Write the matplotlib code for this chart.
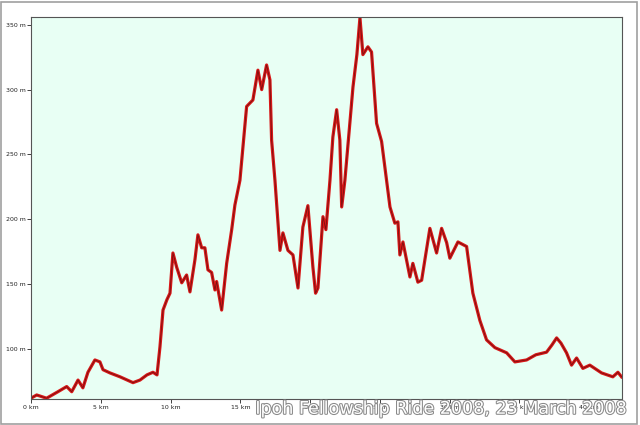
import matplotlib
matplotlib.use('Agg')
import matplotlib.pyplot as plt
import matplotlib.patheffects as pe
from matplotlib.patches import Rectangle

# distance (km) and elevation (m) read from the profile
dist_km = [0.0, 0.41, 1.12, 1.93, 2.56, 2.92, 3.37, 3.72, 4.08, 4.58, 4.94, 5.16,
           5.66, 6.38, 7.31, 7.81, 8.31, 8.74, 9.03, 9.24, 9.46, 9.74, 9.96, 10.17,
           10.44, 10.80, 11.15, 11.39, 11.75, 11.96, 12.23, 12.46, 12.68, 12.94,
           13.18, 13.30, 13.66, 14.02, 14.38, 14.61, 14.97, 15.45, 15.90, 16.26,
           16.53, 16.88, 17.12, 17.24, 17.48, 17.84, 18.05, 18.41, 18.77, 19.13,
           19.48, 19.84, 20.20, 20.39, 20.56, 20.92, 21.13, 21.42, 21.63, 21.90,
           22.13, 22.26, 22.49, 23.07, 23.35, 23.57, 23.78, 24.14, 24.40, 24.76,
           25.12, 25.72, 26.07, 26.29, 26.43, 26.65, 27.15, 27.36, 27.72, 27.99,
           28.58, 29.06, 29.42, 29.78, 30.01, 30.59, 31.21, 31.66, 32.16, 32.64,
           33.24, 34.08, 34.67, 35.51, 36.17, 36.94, 37.32, 37.66, 37.97, 38.37,
           38.73, 39.09, 39.54, 40.04, 40.88, 41.69, 42.05, 42.31]
elev_m = [62, 64.5, 62, 67, 71, 67, 76, 70, 82, 91.5, 90, 84,
          81.5, 78.5, 74, 76, 80, 82, 80, 101.5, 130, 138, 143, 174,
          163, 151, 157, 144, 169, 188, 178, 178, 161, 159,
          145.5, 152, 130, 166, 192, 211, 230, 287, 292, 315,
          300, 319, 307.5, 261, 230, 176, 189.5, 176, 172.5, 147,
          194, 210.5, 163, 143, 147, 202, 192, 230, 263.5, 284.5,
          261, 209.5, 230, 302, 327, 355.5, 327, 333, 329, 274,
          260, 209.5, 197, 198, 172.5, 182.5, 155.5, 166, 151.5, 153,
          193, 174, 193, 182, 170, 182.5, 179, 143, 122, 107,
          101, 97, 90, 91.5, 95.5, 97.5, 103, 108.5, 104.5, 97,
          87.5, 93, 85, 87.5, 81.5, 78.5, 82, 78.5]

x_ticks = [0, 5, 10, 15, 20, 25, 30, 35, 40]
y_ticks = [100, 150, 200, 250, 300, 350]
title_text = 'Ipoh Fellowship Ride 2008, 23 March 2008'

fig = plt.figure(figsize=(6.4, 4.25), dpi=100)
ax = fig.add_axes([0.0484, 0.0612, 0.9236, 0.8988])
ax.set_facecolor('#e8fff4')

ax.plot(dist_km, elev_m, color='#d81818', lw=2.3, solid_joinstyle='round')
ax.plot(dist_km, elev_m, color='#7a1010', lw=0.6)

ax.set_xlim(0, 42.35)
ax.set_ylim(61.4, 356)
ax.set_xticks(x_ticks)
ax.set_xticklabels([f'{t} km' for t in x_ticks])
ax.set_yticks(y_ticks)
ax.set_yticklabels([f'{t} m' for t in y_ticks])
ax.tick_params(labelsize=4.5, length=3, width=0.6, pad=1, colors='#222222')
for s in ax.spines.values():
    s.set_color('#555555')
    s.set_linewidth(0.8)

# title sits over the x tick labels like in the original image
fig.text(0.981, 0.017, title_text, ha='right', va='bottom', fontsize=12.6,
         color='white', family='DejaVu Sans',
         path_effects=[pe.withStroke(linewidth=1.5, foreground='#8a8a8a')])

fig.patches.append(Rectangle((0.002, 0.002), 0.994, 0.994, transform=fig.transFigure,
                             fill=False, edgecolor='#a0a0a0', lw=1.2))

fig.savefig('out.png', dpi=100)
